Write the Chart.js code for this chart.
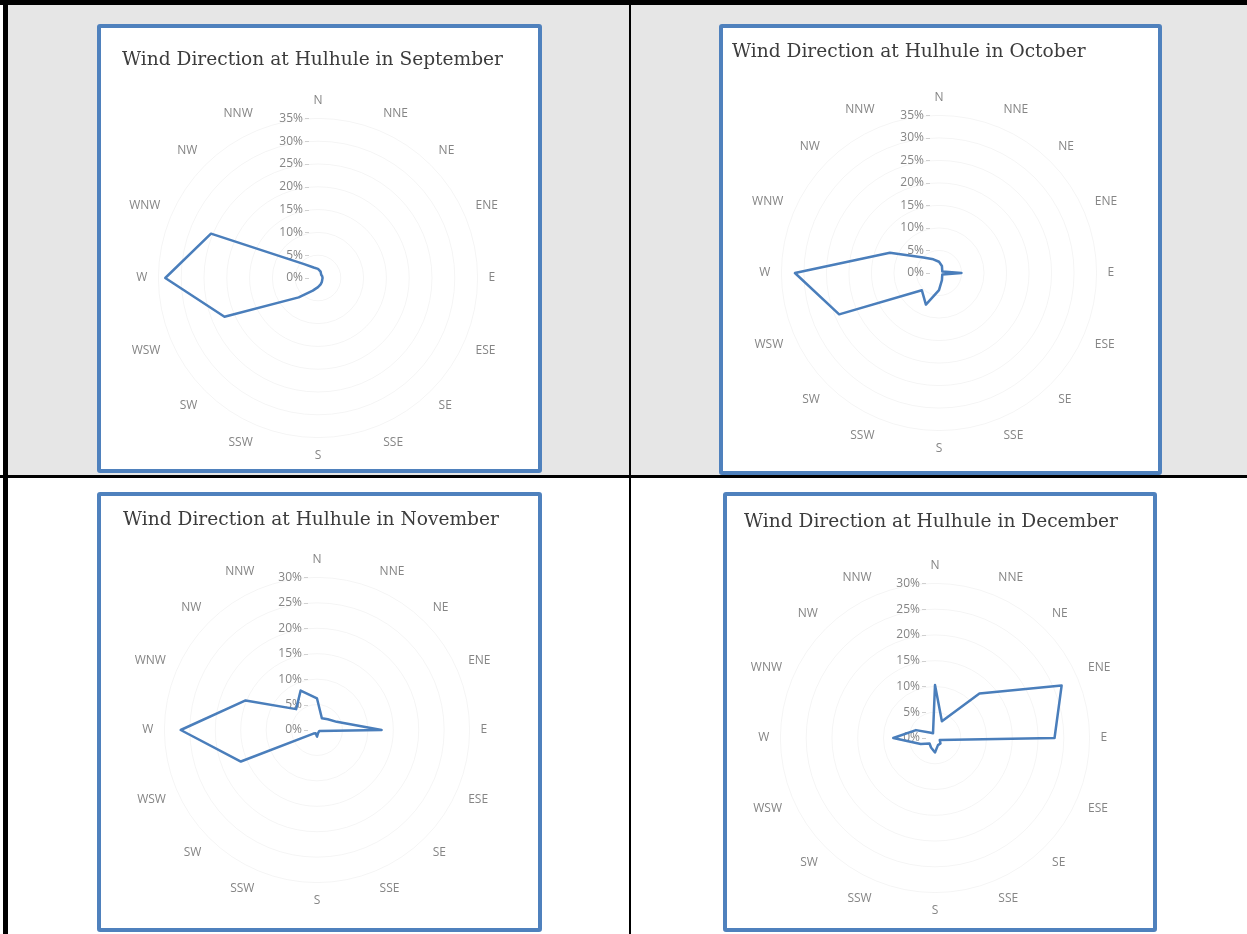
<!DOCTYPE html>
<html><head><meta charset="utf-8">
<script src="https://cdn.jsdelivr.net/npm/chart.js@4.4.0/dist/chart.umd.min.js"></script>
<style>
html,body{margin:0;padding:0;background:#fff;}
body{width:1247px;height:934px;position:relative;overflow:hidden;}
.blk{position:absolute;background:#000;}
.panel{position:absolute;box-sizing:border-box;border:4px solid #4f81bd;border-radius:3px;background:#fff;}
.panel canvas{position:absolute;left:0;top:0;}
</style></head><body>
<div style="position:absolute;left:8px;top:5px;width:1239px;height:470px;background:#e6e6e6"></div>
<div class="blk" style="left:0;top:0;width:1247px;height:5px"></div>
<div class="blk" style="left:3px;top:0;width:5px;height:934px"></div>
<div class="blk" style="left:629px;top:0;width:2px;height:934px"></div>
<div class="blk" style="left:0;top:475px;width:1247px;height:3px"></div>

<div class="panel" style="left:97px;top:24px;width:445px;height:449px"><canvas id="sep" width="437" height="441"></canvas></div>
<div class="panel" style="left:719px;top:24px;width:443px;height:451px"><canvas id="oct" width="435" height="443"></canvas></div>
<div class="panel" style="left:97px;top:492px;width:445px;height:440px"><canvas id="nov" width="437" height="432"></canvas></div>
<div class="panel" style="left:723px;top:492px;width:434px;height:440px"><canvas id="dec" width="426" height="432"></canvas></div>

<script>
const directions = ['N','NNE','NE','ENE','E','ESE','SE','SSE','S','SSW','SW','WSW','W','WNW','NW','NNW'];

const sepValues = [2, 1.5, 1, 1, 1, 1, 1.2, 1.5, 2, 3, 6, 22.2, 33.5, 25.4, 4.3, 2.5];
const octValues = [2.5, 1.7, 1, 0.8, 5, 0.8, 1, 1.7, 3.8, 7.6, 5.4, 24, 32, 11.8, 4.9, 3.3];
const novValues = [6.2, 2.5, 3, 4.2, 12.7, 0.5, 0.5, 0.6, 1.3, 0.7, 1, 16.2, 26.8, 15.2, 5.8, 8.4];
const decValues = [10.3, 3.5, 12.2, 26.6, 23.2, 1, 1.5, 1.5, 2.8, 2, 1.5, 3, 8.1, 4, 1.5, 1];

const tickValues35 = [0, 5, 10, 15, 20, 25, 30, 35];
const tickLabels35 = ['0%', '5%', '10%', '15%', '20%', '25%', '30%', '35%'];
const tickValues30 = [0, 5, 10, 15, 20, 25, 30];
const tickLabels30 = ['0%', '5%', '10%', '15%', '20%', '25%', '30%'];

const titleSep = 'Wind Direction at Hulhule in September';
const titleOct = 'Wind Direction at Hulhule in October';
const titleNov = 'Wind Direction at Hulhule in November';
const titleDec = 'Wind Direction at Hulhule in December';

const leftTicks = {
  id: 'leftTicks',
  beforeDatasetsDraw(chart, args, opts) {
    const s = chart.scales.r;
    const ctx = chart.ctx;
    ctx.save();
    ctx.font = '12px "Open Sans"';
    ctx.fillStyle = '#858585';
    ctx.textAlign = 'right';
    ctx.textBaseline = 'middle';
    ctx.strokeStyle = '#d0d0d0';
    ctx.lineWidth = 1;
    opts.values.forEach((v, i) => {
      const y = s.yCenter - s.getDistanceFromCenterForValue(v);
      ctx.fillText(opts.labels[i], s.xCenter - 15, y);
      ctx.beginPath();
      ctx.moveTo(s.xCenter - 13, Math.round(y) + 0.5);
      ctx.lineTo(s.xCenter - 9, Math.round(y) + 0.5);
      ctx.stroke();
    });
    ctx.restore();
  }
};

function makeChart(id, title, values, tickValues, tickLabels, max, pad, titlePad) {
  return new Chart(document.getElementById(id), {
    type: 'radar',
    data: {
      labels: directions,
      datasets: [{
        data: values,
        borderColor: '#4a7ebb',
        borderWidth: 2.5,
        borderJoinStyle: 'round',
        pointRadius: 0,
        pointHoverRadius: 0,
        fill: false,
        tension: 0
      }]
    },
    options: {
      responsive: false,
      animation: false,
      devicePixelRatio: 1,
      layout: { padding: pad },
      plugins: {
        legend: { display: false },
        tooltip: { enabled: false },
        title: {
          display: true, text: title, align: 'start', color: '#3c3c3c',
          font: { family: '"DejaVu Serif"', size: 18.6, weight: 'normal' },
          padding: titlePad
        },
        leftTicks: { values: tickValues, labels: tickLabels }
      },
      scales: {
        r: {
          min: 0, max: max,
          ticks: { display: false, stepSize: 5 },
          grid: { circular: true, color: 'rgba(0,0,0,0.045)' },
          angleLines: { display: false },
          pointLabels: { font: { family: '"Open Sans"', size: 12 }, color: '#858585', padding: 11 }
        }
      }
    },
    plugins: [leftTicks]
  });
}

makeChart('sep', titleSep, sepValues, tickValues35, tickLabels35, 35,
  { left: 21, right: 32, top: 0, bottom: 5 }, { top: 20.8, bottom: 21.9 });
makeChart('oct', titleOct, octValues, tickValues35, tickLabels35, 35,
  { left: 9, right: 16, top: 0, bottom: 14 }, { top: 12.8, bottom: 26.9 });
makeChart('nov', titleNov, novValues, tickValues30, tickLabels30, 30,
  { left: 22, right: 35, top: 0, bottom: 19 }, { top: 12.8, bottom: 20.9 });
makeChart('dec', titleDec, decValues, tickValues30, tickLabels30, 30,
  { left: 17, right: 35, top: 0, bottom: 9 }, { top: 14.8, bottom: 24.9 });
</script>
</body></html>
